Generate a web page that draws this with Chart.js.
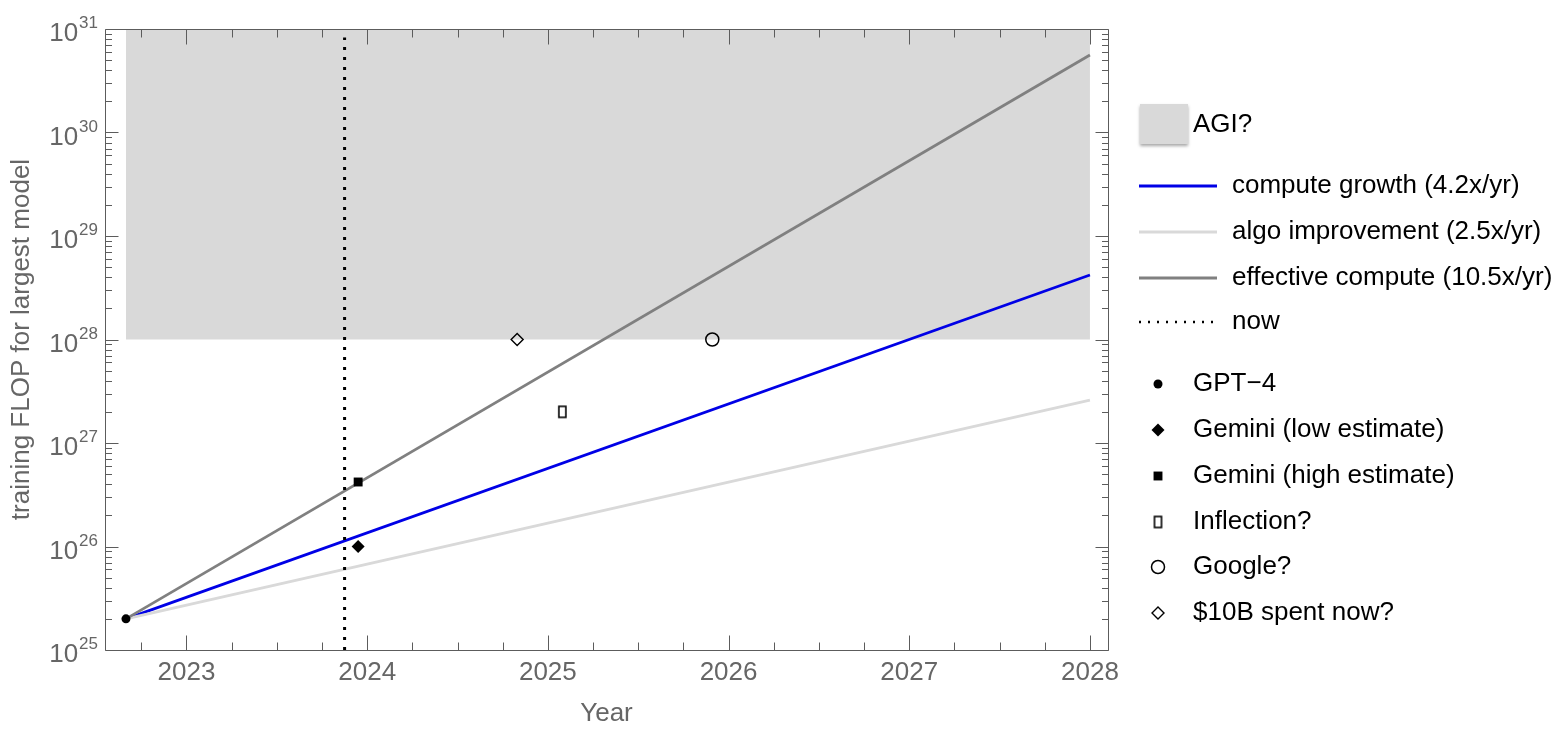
<!DOCTYPE html>
<html><head><meta charset="utf-8">
<script src="https://cdn.jsdelivr.net/npm/chart.js@4/dist/chart.umd.min.js"></script>
<style>html,body{margin:0;padding:0;background:#fff;}#wrap{width:1560px;height:742px;position:relative;}</style>
</head><body><div id="wrap"><canvas id="c" width="1560" height="742"></canvas></div>
<script>
// ---- data ----
const xTickYears = [2023, 2024, 2025, 2026, 2027, 2028];
const yTickExponents = [25, 26, 27, 28, 29, 30, 31];
const lineYears = [2022.665, 2028];
const computeGrowth = [2e25, 4.2e28];
const algoImprovement = [2e25, 2.6e27];
const effectiveCompute = [2e25, 5.6e30];
const agiYears = [2022.665, 2028];
const agiCeiling = [1e31, 1e31];
const agiFloor = 1e28;
const nowYears = [2023.875, 2023.875];
const nowRange = [1e25, 8.3e30];
const markerNames = ['GPT\u22124', 'Gemini (low estimate)', 'Gemini (high estimate)', 'Inflection?', 'Google?', '$10B spent now?'];
const markerYears = [2022.665, 2023.95, 2023.95, 2025.08, 2025.91, 2024.83];
const markerFlop = [2e25, 1e26, 4.2e26, 2e27, 1e28, 1e28];
const seriesNames = ['compute growth (4.2x/yr)', 'algo improvement (2.5x/yr)', 'effective compute (10.5x/yr)', 'now'];
const agiName = 'AGI?';

// ---- styles ----
const FONT = "'Liberation Sans', Arial, Helvetica, sans-serif";
const AXIS_GREY = '#666666';
const seriesColors = ['rgb(0,0,230)', 'rgb(217,217,217)', 'rgb(128,128,128)', '#000'];

function makeTallRect() {
  const cv = document.createElement('canvas');
  cv.width = 11; cv.height = 15;
  const g = cv.getContext('2d');
  g.fillStyle = '#fff'; g.fillRect(2, 2, 7, 11);
  g.strokeStyle = '#000'; g.lineWidth = 1.6; g.strokeRect(2, 2, 7, 11);
  return cv;
}
const tallRect = makeTallRect();
const markerStyles = [
  {pointStyle: 'circle', radius: 4.5, bg: '#000', bw: 0},
  {pointStyle: 'rectRot', radius: 6.5, bg: '#000', bw: 0},
  {pointStyle: 'rect', radius: 6.3, bg: '#000', bw: 0},
  {pointStyle: tallRect, radius: 6, bg: '#fff', bw: 0},
  {pointStyle: 'circle', radius: 6.5, bg: 'rgba(0,0,0,0)', bw: 1.5},
  {pointStyle: 'rectRot', radius: 6, bg: 'rgba(0,0,0,0)', bw: 1.4},
];

const pts = (xs, ys) => xs.map((x, i) => ({x, y: ys[i]}));

const datasets = [];
datasets.push({label: agiName, data: pts(agiYears, agiCeiling), borderWidth: 0, borderColor: 'rgba(0,0,0,0)', pointRadius: 0,
  fill: {value: agiFloor}, backgroundColor: 'rgb(217,217,217)', order: 20});
[computeGrowth, algoImprovement, effectiveCompute].forEach((vals, i) => {
  datasets.push({label: seriesNames[i], data: pts(lineYears, vals), borderColor: seriesColors[i], borderWidth: 2.8,
    pointRadius: 0, fill: false, order: 10 - i});
});
datasets.push({label: seriesNames[3], data: pts(nowYears, nowRange), borderColor: '#000', borderWidth: 3,
  borderDash: [3, 7], borderCapStyle: 'butt', pointRadius: 0, fill: false, order: 5});
markerNames.forEach((n, i) => {
  const s = markerStyles[i];
  datasets.push({label: n, data: [{x: markerYears[i], y: markerFlop[i]}], showLine: false,
    pointStyle: s.pointStyle, pointRadius: s.radius, pointBackgroundColor: s.bg, pointBorderColor: '#000',
    pointBorderWidth: s.bw, order: 1});
});

const framePlugin = {
  id: 'frame',
  afterDraw(chart) {
    const {ctx, chartArea: a, scales: {x, y}} = chart;
    ctx.save();
    ctx.strokeStyle = '#5c5c5c'; ctx.lineWidth = 1;
    const L = Math.round(a.left) + 0.5, R = Math.round(a.right) + 0.5, T = Math.round(a.top) + 0.5, B = Math.round(a.bottom) + 0.5;
    ctx.beginPath();
    ctx.rect(L, T, R - L, B - T);
    for (let q = Math.ceil(x.min * 4); q <= Math.floor(x.max * 4); q++) {
      const px = Math.round(x.getPixelForValue(q / 4)) + 0.5;
      const len = (q % 4 === 0) ? 15 : 8;
      ctx.moveTo(px, B); ctx.lineTo(px, B - len);
      ctx.moveTo(px, T); ctx.lineTo(px, T + len);
    }
    const e0 = yTickExponents[0], e1 = yTickExponents[yTickExponents.length - 1];
    for (let e = e0; e <= e1; e++) {
      for (let m = 1; m < 10; m++) {
        if (e === e1 && m > 1) break;
        const py = Math.round(y.getPixelForValue(m * Math.pow(10, e))) + 0.5;
        const len = m === 1 ? 13 : 6.5;
        ctx.moveTo(L, py); ctx.lineTo(L + len, py);
        ctx.moveTo(R, py); ctx.lineTo(R - len, py);
      }
    }
    ctx.stroke();
    // y tick labels 10^n
    ctx.fillStyle = AXIS_GREY;
    ctx.textBaseline = 'alphabetic';
    ctx.textAlign = 'right';
    yTickExponents.forEach(e => {
      const py = y.getPixelForValue(Math.pow(10, e));
      ctx.font = `17px ${FONT}`;
      const ex = String(e);
      const w = ctx.measureText(ex).width;
      ctx.fillText(ex, a.left - 7, py - 1);
      ctx.font = `26px ${FONT}`;
      ctx.fillText('10', a.left - 8 - w, py + 12);
    });
    // legend
    ctx.textAlign = 'left';
    ctx.textBaseline = 'middle';
    ctx.font = `26px ${FONT}`;
    ctx.fillStyle = '#000';
    ctx.save();
    ctx.shadowColor = 'rgba(0,0,0,0.35)'; ctx.shadowOffsetY = 2; ctx.shadowBlur = 3;
    ctx.fillStyle = 'rgb(217,217,217)';
    ctx.fillRect(1140, 104, 48, 40);
    ctx.restore();
    ctx.fillText(agiName, 1193, 125);
    const lineRows = [186, 232, 278, 322];
    seriesNames.forEach((n, i) => {
      const ly = lineRows[i];
      ctx.save();
      ctx.strokeStyle = seriesColors[i];
      ctx.lineWidth = 3;
      if (i === 3) { ctx.setLineDash([2, 7]); ctx.lineWidth = 2.5; }
      ctx.beginPath(); ctx.moveTo(1139, ly); ctx.lineTo(1217, ly); ctx.stroke();
      ctx.restore();
      ctx.fillText(n, 1232, ly);
    });
    const markRows = [384, 430, 476, 522, 567, 613];
    markerNames.forEach((n, i) => {
      const s = markerStyles[i];
      const my = markRows[i];
      ctx.save();
      ctx.fillStyle = s.bg; ctx.strokeStyle = '#000'; ctx.lineWidth = s.bw;
      Chart.helpers.drawPoint(ctx, {pointStyle: s.pointStyle, radius: s.radius, rotation: 0, borderWidth: s.bw}, 1158, my);
      ctx.restore();
      ctx.fillText(n, 1193, my);
    });
    ctx.restore();
  }
};

new Chart(document.getElementById('c'), {
  type: 'line',
  data: {datasets},
  options: {
    responsive: false, animation: false, devicePixelRatio: 1,
    layout: {padding: {top: 29, right: 452, left: 0, bottom: 0}},
    plugins: {legend: {display: false}, tooltip: {enabled: false}},
    elements: {line: {tension: 0}},
    scales: {
      x: {
        type: 'linear', min: 2022.549, max: 2028.1,
        afterBuildTicks: s => { s.ticks = xTickYears.map(v => ({value: v})); },
        afterFit: s => { s.height = 92; },
        ticks: {callback: v => String(v), color: AXIS_GREY, font: {family: FONT, size: 26}, padding: 7, maxRotation: 0, autoSkip: false},
        grid: {display: false, drawTicks: false},
        border: {display: false},
        title: {display: true, text: 'Year', color: AXIS_GREY, font: {family: FONT, size: 26}, padding: {top: 0, bottom: 13}}
      },
      y: {
        type: 'logarithmic', min: 1e25, max: 1e31,
        afterBuildTicks: s => { s.ticks = yTickExponents.map(e => ({value: Math.pow(10, e)})); },
        afterFit: s => { s.width = 105; },
        ticks: {display: false},
        grid: {display: false, drawTicks: false},
        border: {display: false},
        title: {display: true, text: 'training FLOP for largest model', color: AXIS_GREY, font: {family: FONT, size: 26}, padding: {top: 6, bottom: 0}}
      }
    }
  },
  plugins: [framePlugin]
});
</script></body></html>
